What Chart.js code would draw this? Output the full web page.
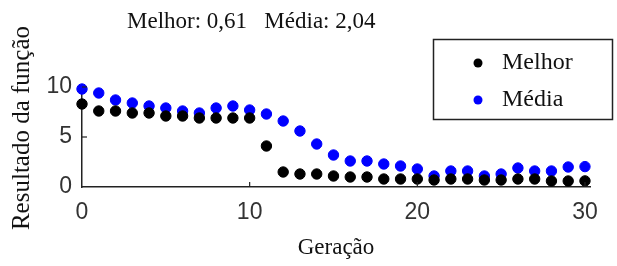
<!DOCTYPE html>
<html>
<head>
<meta charset="utf-8">
<script src="https://cdn.jsdelivr.net/npm/chart.js@4/dist/chart.umd.min.js"></script>
<style>
html,body{margin:0;padding:0;background:#fff;}
#wrap{width:617px;height:266px;position:relative;}
</style>
</head>
<body>
<div id="wrap"><canvas id="c" width="617" height="266"></canvas></div>
<script>
const generations = [0,1,2,3,4,5,6,7,8,9,10,11,12,13,14,15,16,17,18,19,20,21,22,23,24,25,26,27,28,29,30];
const melhor = [8.3,7.6,7.6,7.4,7.4,7.1,7.1,6.9,6.9,6.9,6.9,4.1,1.5,1.3,1.3,1.1,1.0,1.0,0.8,0.8,0.8,0.7,0.8,0.8,0.7,0.7,0.8,0.8,0.6,0.6,0.61];
const media = [9.8,9.4,8.7,8.4,8.1,7.9,7.6,7.4,7.9,8.1,7.7,7.3,6.6,5.6,4.3,3.2,2.6,2.6,2.3,2.1,1.8,1.1,1.6,1.6,1.1,1.3,1.9,1.6,1.6,2.0,2.04];
const xTicks = [0,10,20,30];
const yTicks = [0,5,10];
const seriesNames = ['Melhor','Média'];
const titleText = 'Melhor: 0,61   Média: 2,04';
const xTitle = 'Geração';
const yTitle = 'Resultado da função';

const serif = '"Liberation Serif", "Times New Roman", serif';
const sans = '"Liberation Sans", Arial, sans-serif';

const toPts = arr => generations.map((g,i)=>({x:g,y:arr[i]}));

const extras = {
  id:'extras',
  afterDraw(chart){
    const ctx = chart.ctx;
    const xs = chart.scales.x, ys = chart.scales.y;
    const a = chart.chartArea;
    ctx.save();
    // inward tick marks
    ctx.strokeStyle = '#222'; ctx.lineWidth = 1.2;
    xTicks.forEach(v=>{ if(v===0) return; const px = xs.getPixelForValue(v);
      ctx.beginPath(); ctx.moveTo(px,a.bottom); ctx.lineTo(px,a.bottom-5); ctx.stroke(); });
    yTicks.forEach(v=>{ if(v===0) return; const py = ys.getPixelForValue(v);
      ctx.beginPath(); ctx.moveTo(a.left,py); ctx.lineTo(a.left+5,py); ctx.stroke(); });
    // title
    ctx.fillStyle = '#111';
    ctx.font = '23px ' + serif;
    ctx.textBaseline = 'middle'; ctx.textAlign = 'left';
    ctx.fillText(titleText, 127, 22);
    // y-axis title
    ctx.save();
    ctx.translate(22, 128);
    ctx.rotate(-Math.PI/2);
    ctx.textAlign = 'center';
    ctx.font = '25px ' + serif;
    ctx.fillText(yTitle, 0, 0);
    ctx.restore();
    // legend box
    ctx.fillStyle = '#fff';
    ctx.fillRect(433, 39, 179, 80);
    ctx.strokeStyle = '#222'; ctx.lineWidth = 1.5;
    ctx.strokeRect(433.5, 39.5, 179, 80);
    const ys2 = [63, 100];
    chart.data.datasets.forEach((ds,i)=>{
      ctx.fillStyle = ds.backgroundColor;
      ctx.beginPath(); ctx.arc(478, ys2[i], 4.5, 0, Math.PI*2); ctx.fill();
      ctx.fillStyle = '#111';
      ctx.font = '24px ' + serif;
      ctx.textAlign = 'left';
      ctx.fillText(ds.label, 502, ys2[i]);
    });
    ctx.restore();
  }
};

new Chart(document.getElementById('c'), {
  type:'scatter',
  data:{
    datasets:[
      {label:seriesNames[0], data:toPts(melhor), backgroundColor:'#000000', borderColor:'#000000', pointRadius:5.2, pointHoverRadius:5.2, clip:false},
      {label:seriesNames[1], data:toPts(media), backgroundColor:'#0000ff', borderColor:'#0000ff', pointRadius:5.2, pointHoverRadius:5.2, clip:false}
    ]
  },
  options:{
    responsive:false,
    animation:false,
    events:[],
    layout:{padding:{top:87,right:27,left:0,bottom:0}},
    plugins:{legend:{display:false}, title:{display:false}, tooltip:{enabled:false}},
    scales:{
      x:{
        type:'linear', min:0, max:30.3,
        afterBuildTicks(s){ s.ticks = xTicks.map(v=>({value:v})); },
        afterFit(s){ s.height = 79; },
        grid:{display:false, drawTicks:false},
        border:{display:true, color:'#222', width:1.5},
        ticks:{font:{family:sans, size:23}, color:'#333', padding:12, maxRotation:0, autoSkip:false},
        title:{display:true, text:xTitle, font:{family:serif, size:23}, color:'#111', padding:{top:6}}
      },
      y:{
        type:'linear', min:0, max:10,
        afterBuildTicks(s){ s.ticks = yTicks.map(v=>({value:v})); },
        afterFit(s){ s.width = 82; },
        grid:{display:false, drawTicks:false},
        border:{display:true, color:'#222', width:1.5},
        ticks:{font:{family:sans, size:23}, color:'#333', padding:10}
      }
    }
  },
  plugins:[extras]
});
</script>
</body>
</html>
